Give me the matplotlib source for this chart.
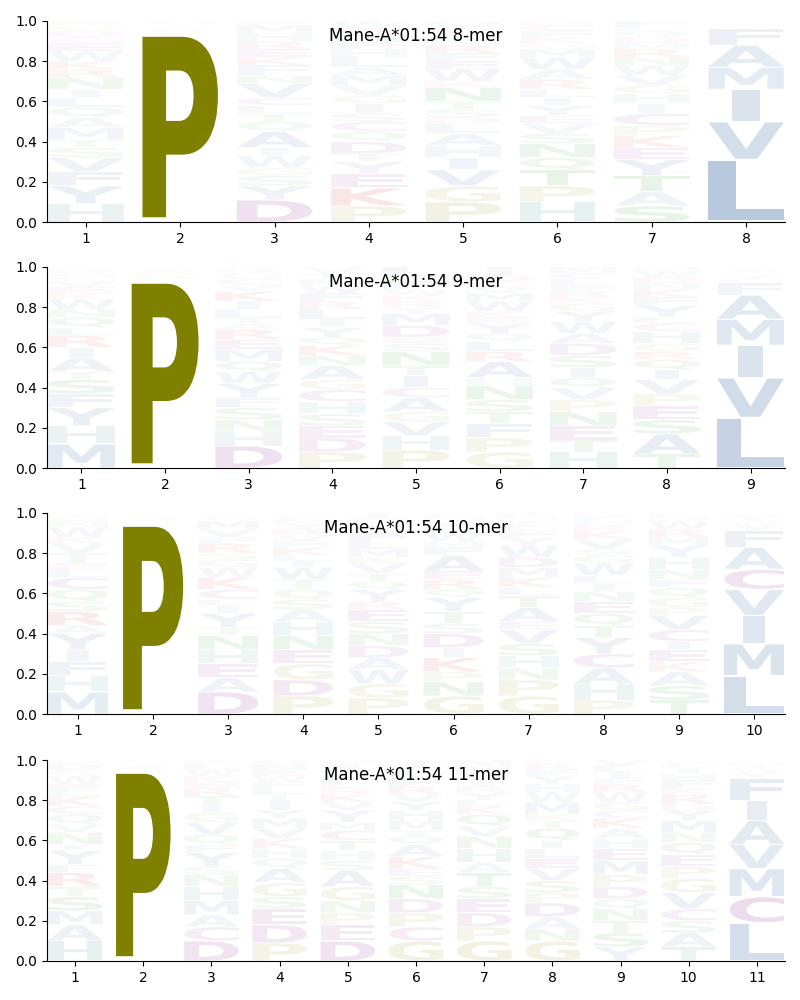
"""
Sequence logos: Mane-A*01:54 binding motifs, 8- to 11-mers
"""
import matplotlib
matplotlib.use('Agg')
import matplotlib.pyplot as plt
from matplotlib.textpath import TextPath
from matplotlib.patches import PathPatch
from matplotlib.font_manager import FontProperties
from matplotlib.transforms import Affine2D

ALLELE = "Mane-A*01:54"

# letters per position, stacked bottom -> top, with their probabilities
LETTERS_8 = [
    "HYFVSTMAQLINRKWECDGP", "PASTVGE", "DYSGWIAQTLCVNFKERHMP",
    "PKEYTDQCSIGVMALHFNRW", "PGVIHALDSTNKWEFRMYCQ", "HPTQNSVEYILRAWMGKFCD",
    "SATYEKPCIHGVWNRMDQLF", "LVIMAFYWCTSG",
]
HEIGHTS_8 = [
    [.09, .09, .07, .07, .05, .04, .06, .05, .05, .05, .04, .06, .04, .04, .05, .04, .03, .03, .03, .02],
    [.945, .015, .01, .01, .008, .006, .006],
    [.11, .07, .05, .04, .06, .04, .08, .05, .04, .04, .04, .07, .04, .05, .04, .04, .04, .04, .04, .02],
    [.08, .09, .07, .06, .04, .06, .05, .05, .04, .05, .04, .05, .05, .04, .05, .04, .04, .04, .03, .03],
    [.10, .08, .08, .06, .06, .06, .05, .03, .04, .04, .07, .03, .06, .04, .04, .04, .03, .03, .03, .03],
    [.10, .08, .08, .06, .07, .05, .05, .04, .05, .04, .04, .05, .05, .06, .04, .03, .03, .03, .03, .02],
    [.08, .07, .08, .08, .06, .06, .05, .06, .05, .05, .04, .05, .05, .04, .04, .03, .03, .03, .02, .03],
    [.31, .19, .16, .11, .11, .08, .01, .01, .01, .004, .003, .003],
]

LETTERS_9 = [
    "MHYFSTAIRLQNWKEVCGDP", "PASTV", "DHNSFYWQMERATLIKVCGP",
    "PDESHCGANKQYILRFWMTV", "PHVGACITNSEDMYRKWFQL", "GPFTSNHARLQYEKWMVCDI",
    "HTENPVQISDAWYGKRFLCM", "TASEPVIQRGHCLYFKNDWM", "LVIMAFCYWTSG",
]
HEIGHTS_9 = [
    [.12, .09, .09, .07, .07, .04, .07, .05, .06, .04, .05, .04, .05, .03, .03, .03, .02, .02, .02, .01],
    [.94, .02, .02, .01, .01],
    [.11, .07, .06, .06, .05, .07, .06, .05, .06, .05, .05, .03, .03, .04, .04, .05, .03, .03, .03, .03],
    [.08, .07, .06, .06, .06, .06, .05, .07, .05, .05, .04, .05, .04, .05, .04, .04, .04, .03, .03, .03],
    [.09, .07, .07, .05, .07, .05, .06, .05, .07, .04, .03, .06, .06, .03, .03, .03, .03, .04, .02, .05],
    [.08, .07, .07, .06, .06, .07, .04, .08, .05, .05, .04, .05, .03, .03, .05, .04, .03, .03, .03, .04],
    [.08, .06, .07, .07, .06, .06, .05, .05, .06, .06, .05, .06, .05, .04, .03, .03, .03, .03, .03, .03],
    [.07, .10, .07, .07, .06, .07, .05, .05, .04, .04, .06, .04, .03, .06, .04, .04, .03, .03, .03, .02],
    [.25, .20, .16, .13, .12, .06, .02, .02, .01, .01, .01, .01],
]

LETTERS_10 = [
    "MHFIYARSQCLETVKWNGDP", "PSAGT", "DAEHNTYILCKWGSRFVMQP",
    "PDGENHASQTWILKFVRYMC", "PGWADNSERYQTVKMLFCHI", "GNPKIDSTYQREAFMWLVHC",
    "GPNHSVEATLKMDWYFCIQR", "PHACYTQENILWGSVKRMFD", "TSAKEICVPGQFNHYMRWDL",
    "LMIVCAFYWTSG",
]
HEIGHTS_10 = [
    [.11, .08, .07, .06, .08, .04, .07, .05, .06, .06, .04, .03, .05, .05, .03, .05, .03, .02, .01, .01],
    [.955, .015, .01, .01, .01],
    [.11, .07, .07, .07, .07, .04, .07, .04, .03, .05, .06, .05, .04, .03, .05, .03, .04, .04, .02, .02],
    [.09, .08, .08, .07, .07, .07, .06, .05, .05, .05, .06, .03, .03, .04, .03, .03, .03, .03, .02, .02],
    [.08, .07, .07, .06, .06, .06, .06, .06, .04, .06, .04, .04, .05, .03, .04, .04, .04, .04, .03, .03],
    [.09, .07, .05, .07, .05, .07, .05, .06, .07, .04, .05, .04, .08, .04, .03, .04, .03, .03, .02, .02],
    [.09, .08, .06, .06, .06, .07, .04, .07, .06, .04, .05, .05, .05, .06, .04, .03, .03, .02, .02, .02],
    [.07, .08, .08, .07, .08, .06, .06, .06, .05, .04, .04, .06, .04, .03, .05, .04, .03, .02, .02, .02],
    [.07, .07, .07, .05, .06, .04, .06, .07, .04, .05, .05, .04, .05, .06, .06, .04, .04, .04, .02, .02],
    [.19, .16, .14, .13, .10, .11, .08, .03, .02, .02, .01, .01],
]

LETTERS_11 = [
    "HAMSTRFYINVQCKLEWGDP", "PASG", "DCAMHNSYFQVGITREKWLP",
    "PDESGAQHKVMYITLFWRNC", "DEPNGASHTCMYVKRLFWIQ", "GCPDNSEKAQTMHYVRFLWI",
    "GPDESTAHNVQKLYRICWFM", "GNADPSVELIQTKMWHYFRC", "YSTNQDPMEHAKCGWRFILV",
    "TASCVGPEQNMYDRKFHILW", "LCMVAIFYWTSG",
]
HEIGHTS_11 = [
    [.10, .08, .07, .07, .05, .07, .04, .07, .03, .06, .04, .05, .04, .05, .03, .03, .04, .03, .03, .02],
    [.955, .02, .015, .01],
    [.10, .07, .06, .07, .07, .06, .04, .07, .04, .05, .06, .05, .04, .04, .04, .03, .03, .03, .03, .02],
    [.09, .09, .08, .06, .07, .07, .05, .05, .05, .05, .05, .04, .05, .03, .03, .03, .03, .03, .03, .02],
    [.10, .08, .06, .06, .07, .08, .05, .05, .05, .05, .04, .06, .04, .04, .03, .03, .03, .03, .03, .02],
    [.10, .07, .07, .07, .07, .04, .04, .06, .06, .04, .03, .05, .05, .04, .04, .04, .04, .03, .03, .03],
    [.10, .07, .07, .07, .06, .07, .05, .07, .06, .05, .06, .04, .03, .04, .03, .03, .02, .02, .03, .03],
    [.10, .06, .06, .07, .05, .06, .06, .05, .05, .04, .06, .04, .03, .06, .05, .04, .04, .03, .03, .02],
    [.07, .07, .06, .06, .05, .06, .06, .07, .06, .05, .05, .05, .04, .04, .05, .04, .03, .03, .03, .03],
    [.07, .07, .06, .06, .08, .07, .06, .06, .06, .05, .06, .05, .03, .05, .03, .04, .03, .03, .02, .02],
    [.19, .13, .14, .12, .12, .10, .11, .03, .02, .02, .01, .01],
]

PANELS = [
    ("8-mer", LETTERS_8, HEIGHTS_8),
    ("9-mer", LETTERS_9, HEIGHTS_9),
    ("10-mer", LETTERS_10, HEIGHTS_10),
    ("11-mer", LETTERS_11, HEIGHTS_11),
]

# residue colour groups
BLUE = '#2a5a9a'
PURPLE = '#800080'
RED = '#c00000'
GREEN = '#008000'
TEAL = '#2a7f7f'
OLIVE = '#808000'
COLORS = {}
for aa in "AVLIMFWY":
    COLORS[aa] = BLUE
for aa in "CDE":
    COLORS[aa] = PURPLE
for aa in "KR":
    COLORS[aa] = RED
for aa in "NQST":
    COLORS[aa] = GREEN
COLORS['H'] = TEAL
COLORS['G'] = OLIVE
COLORS['P'] = OLIVE

GLYPH_WIDTH = 0.8
VPAD = 0.05
FONT = FontProperties(family='DejaVu Sans', weight='bold')
# glyphs narrower than 'E' are not stretched beyond E's stretch factor
E_WIDTH = TextPath((0, 0), 'E', size=1, prop=FONT).get_extents().width


def draw_glyph(ax, char, x, y0, h, color, alpha):
    path = TextPath((0, 0), char, size=1, prop=FONT)
    bb = path.get_extents()
    hstretch = min(GLYPH_WIDTH / bb.width, GLYPH_WIDTH / E_WIDTH)
    cw = hstretch * bb.width
    hh = h * (1 - VPAD)
    tr = (Affine2D()
          .translate(-bb.x0, -bb.y0)
          .scale(hstretch, hh / bb.height)
          .translate(x - cw / 2, y0 + h * VPAD / 2))
    patch = PathPatch(tr.transform_path(path), facecolor=color,
                      edgecolor='none', alpha=alpha)
    ax.add_patch(patch)


fig = plt.figure(figsize=(8, 10), dpi=100)
bottoms = [0.778, 0.532, 0.286, 0.039]

for (label, letters, heights), bottom in zip(PANELS, bottoms):
    ax = fig.add_axes([0.059, bottom, 0.922, 0.201])
    top = max(max(h) for h in heights)
    for i, (col, hs) in enumerate(zip(letters, heights)):
        pos = i + 1
        y = 0.0
        for ch, h in zip(col, hs):
            a = min(1.0, h / top)
            draw_glyph(ax, ch, pos, y, h, COLORS[ch], a)
            y += h
    n = len(letters)
    ax.set_xlim(0.59, n + 0.41)
    ax.set_ylim(0, 1)
    ax.set_xticks(range(1, n + 1))
    ax.set_yticks([0, 0.2, 0.4, 0.6, 0.8, 1.0])
    ax.spines['top'].set_visible(False)
    ax.spines['right'].set_visible(False)
    ax.text(0.5, 0.925, f"{ALLELE} {label}", transform=ax.transAxes,
            ha='center', va='center', fontsize=12)

plt.savefig('out.png', dpi=100)
plt.close(fig)
